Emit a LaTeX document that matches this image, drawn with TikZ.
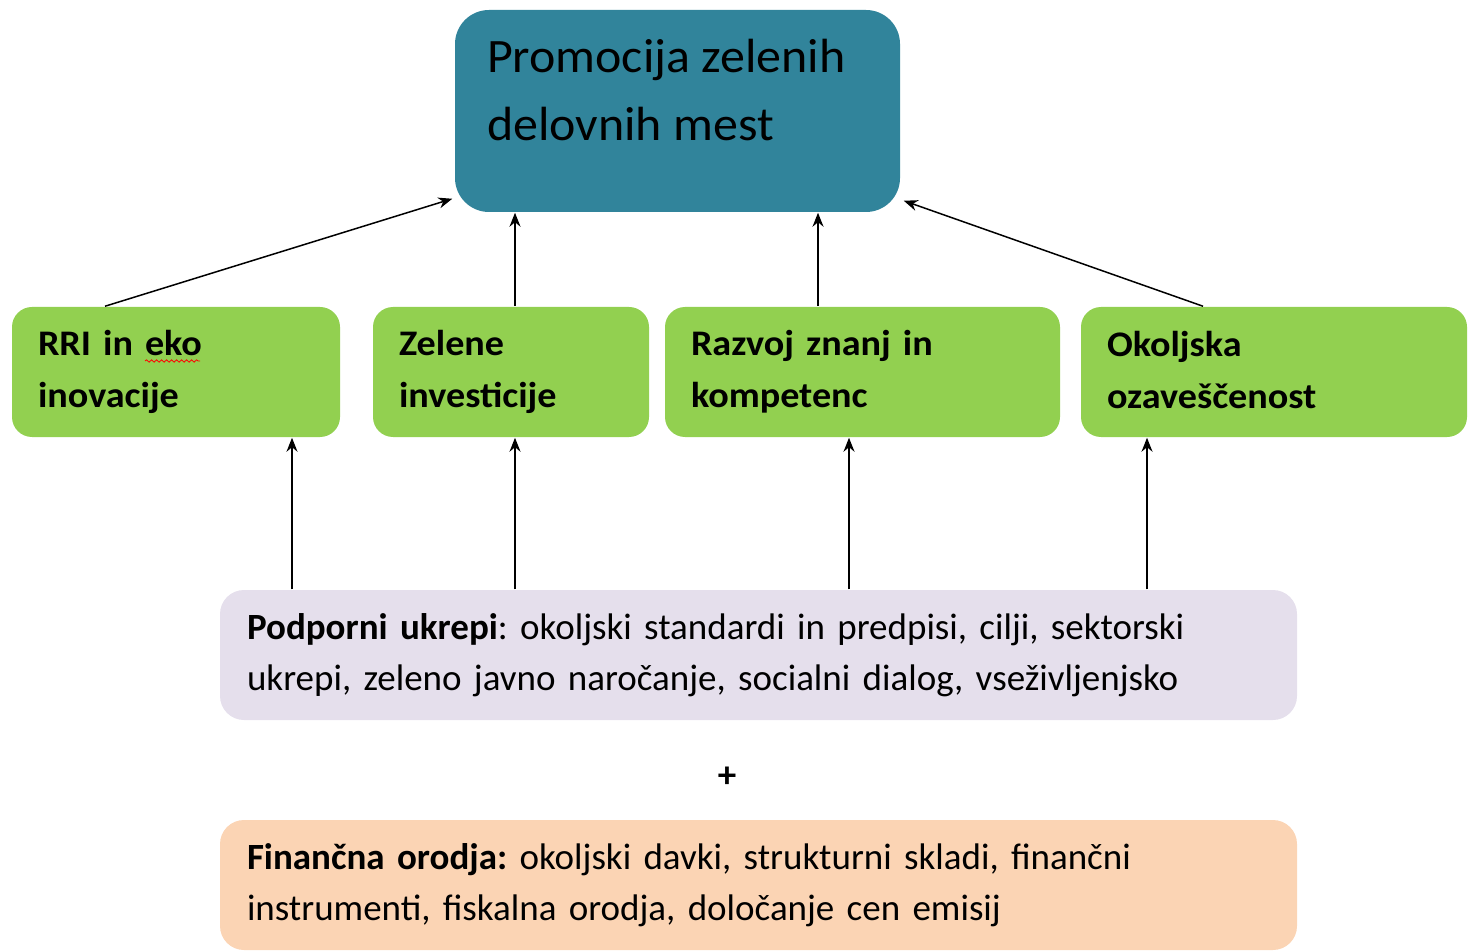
\documentclass[tikz,border=0pt]{standalone}
\usepackage{fontspec}
\setmainfont{Carlito}
\newfontfamily\pillarfont{Carlito}[FakeStretch=1.06]
\newfontfamily\goalfont{Carlito}[FakeStretch=1.04]
\usepackage{xcolor}
\usepackage{tikz}
\usetikzlibrary{arrows.meta, decorations.pathmorphing}

\definecolor{tealbox}{HTML}{31849B}
\definecolor{greenbox}{HTML}{92D050}
\definecolor{lilacbox}{HTML}{E5DFEC}
\definecolor{peachbox}{HTML}{FBD4B4}

\frenchspacing
\begin{document}
\begin{tikzpicture}[x=0.5pt,y=-0.5pt,->,>={Stealth[length=7pt,width=5.5pt]},line width=0.75pt]
                \tikzset{goalbox/.style={rectangle, rounded corners=17pt, fill=tealbox, minimum width=222.5pt, minimum height=101pt, inner sep=0pt},
                         pillar/.style={rectangle, rounded corners=10pt, fill=greenbox, minimum height=65pt, inner xsep=13pt, align=left,
                                        font=\pillarfont\fontsize{18}{26}\selectfont\bfseries},
                         basebox/.style={rectangle, rounded corners=12pt, minimum width=538.5pt, minimum height=65pt, inner xsep=13.5pt,
                                         text width=511.5pt, align=left, font=\fontsize{18.5}{25.5}\selectfont}}

                \useasboundingbox (0,0) rectangle (1470,951);

                \node[goalbox] (promo) at (677.5,111) {};
                \node[anchor=north west, inner sep=0pt, align=left, font=\goalfont\fontsize{24}{34}\selectfont]
                      (promotxt) at ([shift={(16pt,-14.5pt)}]promo.north west) {Promocija zelenih\\delovnih mest};

                \node[pillar, minimum width=164pt, text width=138pt] (rri) at (176,372) {RRI in eko\\inovacije};
                \node[pillar, minimum width=138pt, text width=112pt] (invest) at (511,372) {Zelene\\investicije};
                \node[pillar, minimum width=197.5pt, text width=171.5pt] (znanje) at (862.5,372) {Razvoj znanj in\\kompetenc};
                \node[pillar, minimum width=193pt, text width=167pt] (ozav) at (1274,372) {Okoljska\strut\\ozaveščenost\strut};

                \node[basebox, fill=lilacbox] (ukrepi) at (758.5,655) {\textbf{Podporni ukrepi}: okoljski standardi in predpisi, cilji, sektorski\\ukrepi, zeleno javno naročanje, socialni dialog, vseživljenjsko};
                \node[font=\fontsize{18.5}{20}\selectfont\bfseries] (plus) at (727,777) {+};
                \node[basebox, fill=peachbox] (orodja) at (758.5,885) {\textbf{Finančna orodja:} okoljski davki, strukturni skladi, finančni\\instrumenti, fiskalna orodja, določanje cen emisij};

                % spelling mark under "eko"
                \draw[-, red, line width=0.4pt, decorate, decoration={snake, amplitude=0.6pt, segment length=2.5pt}]
                      ([shift={(-15.5pt,5.5pt)}]rri.center) -- ([shift={(12pt,5.5pt)}]rri.center);

                \draw ([xshift=-35.5pt]rri.north) -- ([shift={(-1pt,7pt)}]promo.south west);
                \draw ([xshift=2pt]invest.north) -- ([xshift=2pt]invest.north |- promo.south);
                \draw ([xshift=-22.25pt]znanje.north) -- ([xshift=-22.25pt]znanje.north |- promo.south);
                \draw ([xshift=-35.5pt]ozav.north) -- ([shift={(1.5pt,6pt)}]promo.south east);

                \draw ([xshift=58pt]rri.south |- ukrepi.north) -- ([xshift=58pt]rri.south);
                \draw ([xshift=2pt]invest.south |- ukrepi.north) -- ([xshift=2pt]invest.south);
                \draw ([xshift=-6.75pt]znanje.south |- ukrepi.north) -- ([xshift=-6.75pt]znanje.south);
                \draw ([xshift=-63.5pt]ozav.south |- ukrepi.north) -- ([xshift=-63.5pt]ozav.south);
            \end{tikzpicture}
\end{document}
